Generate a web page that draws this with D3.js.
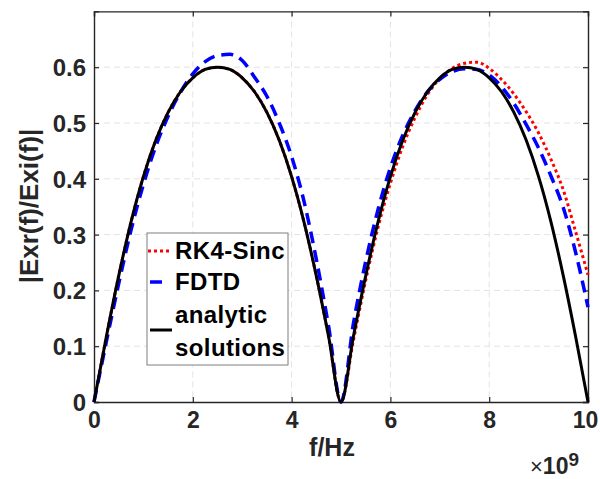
<!DOCTYPE html>
<html><head><meta charset="utf-8">
<script src="https://cdn.jsdelivr.net/npm/d3@7"></script>
<style>body{margin:0;background:#fff}svg{display:block}text{font-family:"Liberation Sans",Arial,sans-serif}</style>
</head><body>
<svg id="c" width="600" height="479"></svg>
<script>
const freq = d3.range(0, 10.001, 0.25);   // ×10^9 Hz
const analytic = [0,0.117,0.226,0.323,0.404,0.469,0.519,0.556,0.581,0.596,0.600,0.596,0.581,0.556,0.519,0.469,0.404,0.323,0.226,0.117,0,
                  0.117,0.226,0.323,0.404,0.469,0.519,0.556,0.581,0.596,0.600,0.596,0.581,0.556,0.519,0.469,0.404,0.323,0.226,0.117,0];
const fdtd = [0,0.108,0.212,0.308,0.390,0.458,0.512,0.555,0.588,0.610,0.621,0.623,0.612,0.582,0.548,0.500,0.440,0.360,0.256,0.135,0,
              0.140,0.252,0.345,0.420,0.478,0.522,0.556,0.578,0.592,0.597,0.596,0.586,0.565,0.535,0.497,0.455,0.405,0.348,0.268,0.170];
const rk4 = [0,0.117,0.226,0.323,0.404,0.469,0.519,0.556,0.581,0.596,0.600,0.596,0.581,0.556,0.519,0.469,0.404,0.323,0.226,0.117,0,
             0.110,0.218,0.313,0.392,0.458,0.510,0.551,0.580,0.598,0.607,0.609,0.598,0.578,0.552,0.520,0.482,0.435,0.380,0.305,0.228];
const xTicks = [0,2,4,6,8,10];
const yTicks = [0,0.1,0.2,0.3,0.4,0.5,0.6];
const seriesNames = ["RK4-Sinc","FDTD","analytic solutions"];

const svg = d3.select("#c");
const L=94,R=588,T=11.4,B=402;
const x = d3.scaleLinear().domain([0,10]).range([L,R]);
const y = d3.scaleLinear().domain([0,0.7]).range([B,T]);
const axisCol="#262626";

// grid
const g = svg.append("g");
g.selectAll(".gx").data(xTicks.filter(d=>d>0&&d<10)).join("line")
 .attr("x1",d=>x(d)).attr("x2",d=>x(d)).attr("y1",T).attr("y2",B)
 .attr("stroke","#e3e3e3").attr("stroke-width",1).attr("stroke-dasharray","6,4");
g.selectAll(".gy").data(yTicks.filter(d=>d>0)).join("line")
 .attr("x1",L).attr("x2",R).attr("y1",d=>y(d)).attr("y2",d=>y(d))
 .attr("stroke","#e3e3e3").attr("stroke-width",1).attr("stroke-dasharray","6,4");

// axes via d3 axes (ticks inward)
const xa = svg.append("g").attr("transform",`translate(0,${B})`)
 .call(d3.axisBottom(x).tickValues(xTicks).tickSize(-5).tickFormat(d3.format("d")).tickPadding(10));
const xt = svg.append("g").attr("transform",`translate(0,${T})`)
 .call(d3.axisTop(x).tickValues(xTicks).tickSize(-5).tickFormat(""));
const ya = svg.append("g").attr("transform",`translate(${L},0)`)
 .call(d3.axisLeft(y).tickValues(yTicks).tickSize(-5).tickFormat(d=>d===0?"0":d3.format(".1f")(d)).tickPadding(8));
const yr = svg.append("g").attr("transform",`translate(${R},0)`)
 .call(d3.axisRight(y).tickValues(yTicks).tickSize(-5).tickFormat(""));
[xa,xt,ya,yr].forEach(a=>{
  a.selectAll("path").attr("stroke",axisCol).attr("stroke-width",1.4);
  a.selectAll("line").attr("stroke",axisCol).attr("stroke-width",1.2);
  a.selectAll("text").attr("fill",axisCol).attr("font-size",24).attr("font-weight","bold")
   .attr("font-family","'Liberation Sans',Arial,sans-serif");
});
ya.selectAll("text").attr("dy","0.35em");
xa.selectAll("text").attr("dy","0.68em").attr("font-size",23)
  .attr("dx",d=>d===10?-3:0);

// curves
const line = d3.line().x((d,i)=>x(freq[i])).y(d=>y(d)).curve(d3.curveMonotoneX);
svg.append("path").datum(rk4).attr("d",line).attr("fill","none")
 .attr("stroke","#ff0000").attr("stroke-width",3).attr("stroke-dasharray","3,3");
svg.append("path").datum(fdtd).attr("d",line).attr("fill","none")
 .attr("stroke","#0000ff").attr("stroke-width",3.5).attr("stroke-dasharray","12,7");
svg.append("path").datum(analytic).attr("d",line).attr("fill","none")
 .attr("stroke","#000").attr("stroke-width",3);

// labels
svg.append("text").attr("transform","translate(38,206) rotate(-90)").attr("text-anchor","middle")
 .attr("font-size",26).attr("font-weight","bold").attr("fill",axisCol).text("|Exr(f)/Exi(f)|");
svg.append("text").attr("x",332).attr("y",456).attr("text-anchor","middle")
 .attr("font-size",25).attr("font-weight","bold").attr("fill",axisCol).text("f/Hz");
const ex = svg.append("text").attr("x",530).attr("y",474).attr("fill",axisCol);
ex.append("tspan").attr("font-size",22).text("×");
ex.append("tspan").attr("font-size",23).attr("font-weight","bold").text("10");
ex.append("tspan").attr("font-size",19).attr("font-weight","bold").attr("dy",-8).text("9");

// legend
const lg = svg.append("g");
lg.append("rect").attr("x",147).attr("y",233).attr("width",141).attr("height",132)
 .attr("fill","#fff").attr("stroke","#7f7f7f").attr("stroke-width",1);
lg.append("line").attr("x1",148).attr("x2",172).attr("y1",251).attr("y2",251)
 .attr("stroke","#ff0000").attr("stroke-width",3).attr("stroke-dasharray","3,3");
lg.append("line").attr("x1",150).attr("x2",162).attr("y1",282).attr("y2",282)
 .attr("stroke","#0000ff").attr("stroke-width",3.5);
lg.append("line").attr("x1",150).attr("x2",172).attr("y1",330).attr("y2",330)
 .attr("stroke","#000").attr("stroke-width",3);
const lt = [[seriesNames[0],259],[seriesNames[1],290],["analytic",323],["solutions",356]];
lg.selectAll(".lt").data(lt).join("text").attr("x",175).attr("y",d=>d[1])
 .attr("font-size",24).attr("letter-spacing",0.4).attr("font-weight","bold").attr("fill","#000").text(d=>d[0]);
</script>
</body></html>
